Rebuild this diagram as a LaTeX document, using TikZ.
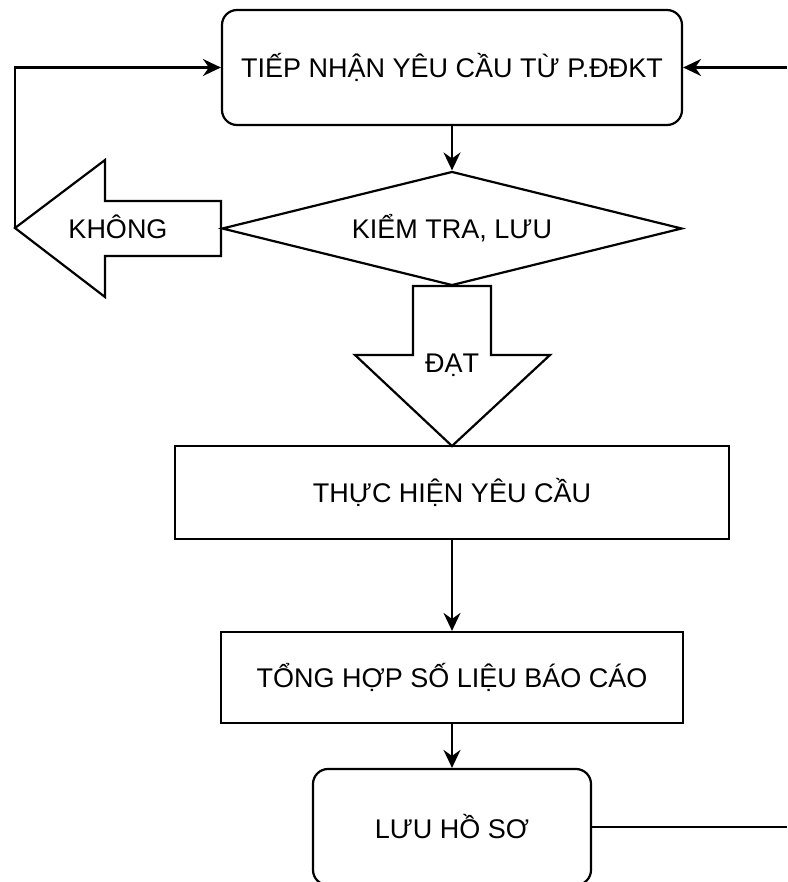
\documentclass[tikz,border=0pt]{standalone}
\usepackage{fontspec}
\setmainfont{Liberation Sans}
\usetikzlibrary{arrows.meta, shapes.geometric}

\begin{document}
\begin{tikzpicture}[x=0.5pt, y=-0.5pt, line width=1.1pt,
    >={Stealth[length=9pt, width=8.5pt, inset=3pt]},
    font=\fontsize{13.5}{16}\selectfont,
    buoc/.style={draw, rectangle, inner sep=0pt},
    buoctron/.style={buoc, rounded corners=7.5pt},
    quyetdinh/.style={draw, diamond, aspect=4, inner sep=0pt},
    muiten/.style={draw, line join=miter}]
    \useasboundingbox (0,0) rectangle (787,882);

    % Cac buoc chinh
    \node[buoctron, minimum width=230pt, minimum height=57.5pt] (tiep) at (452,67.5) {TIẾP NHẬN YÊU CẦU TỪ P.ĐĐKT};
    \node[quyetdinh, minimum width=230pt, minimum height=57pt] (kiemtra) at (452,228.5) {KIỂM TRA, LƯU};
    \node[buoc, minimum width=277pt, minimum height=46.5pt] (thuchien) at (452,492.5) {THỰC HIỆN YÊU CẦU};
    \node[buoc, minimum width=231pt, minimum height=45.5pt] (tonghop) at (452,677.5) {TỔNG HỢP SỐ LIỆU BÁO CÁO};
    \node[buoctron, minimum width=139pt, minimum height=58pt] (luu) at (452,827) {LƯU HỒ SƠ};

    % Mui ten KHONG
    \coordinate (khongtip) at (15,228);
    \draw[muiten] (221,201) -- (105,201) -- (105,160) -- (khongtip) -- (105,297) -- (105,256) -- (221,256) -- cycle;
    \node (khong) at (118,227) {KHÔNG};

    % Mui ten DAT
    \coordinate (dattip) at (452,446);
    \draw[muiten] (413,286) -- (413,355) -- (355,355) -- (dattip) -- (550,355) -- (491,355) -- (491,286) -- cycle;
    \node (dat) at (452,365) {ĐẠT};

    % Duong noi
    \draw[->] (tiep.south) -- (kiemtra.north);
    \draw[->] (thuchien.south) -- (tonghop.north);
    \draw[->] (tonghop.south) -- (luu.north);
    \draw[->] (khongtip) |- (tiep.west);

    % Vong ve ben phai
    \coordinate (phaitren) at (787,67.5);
    \coordinate (phaiduoi) at (787,827);
    \draw[->] (phaitren) -- (tiep.east);
    \draw (luu.east) -- (phaiduoi);
\end{tikzpicture}
\end{document}
